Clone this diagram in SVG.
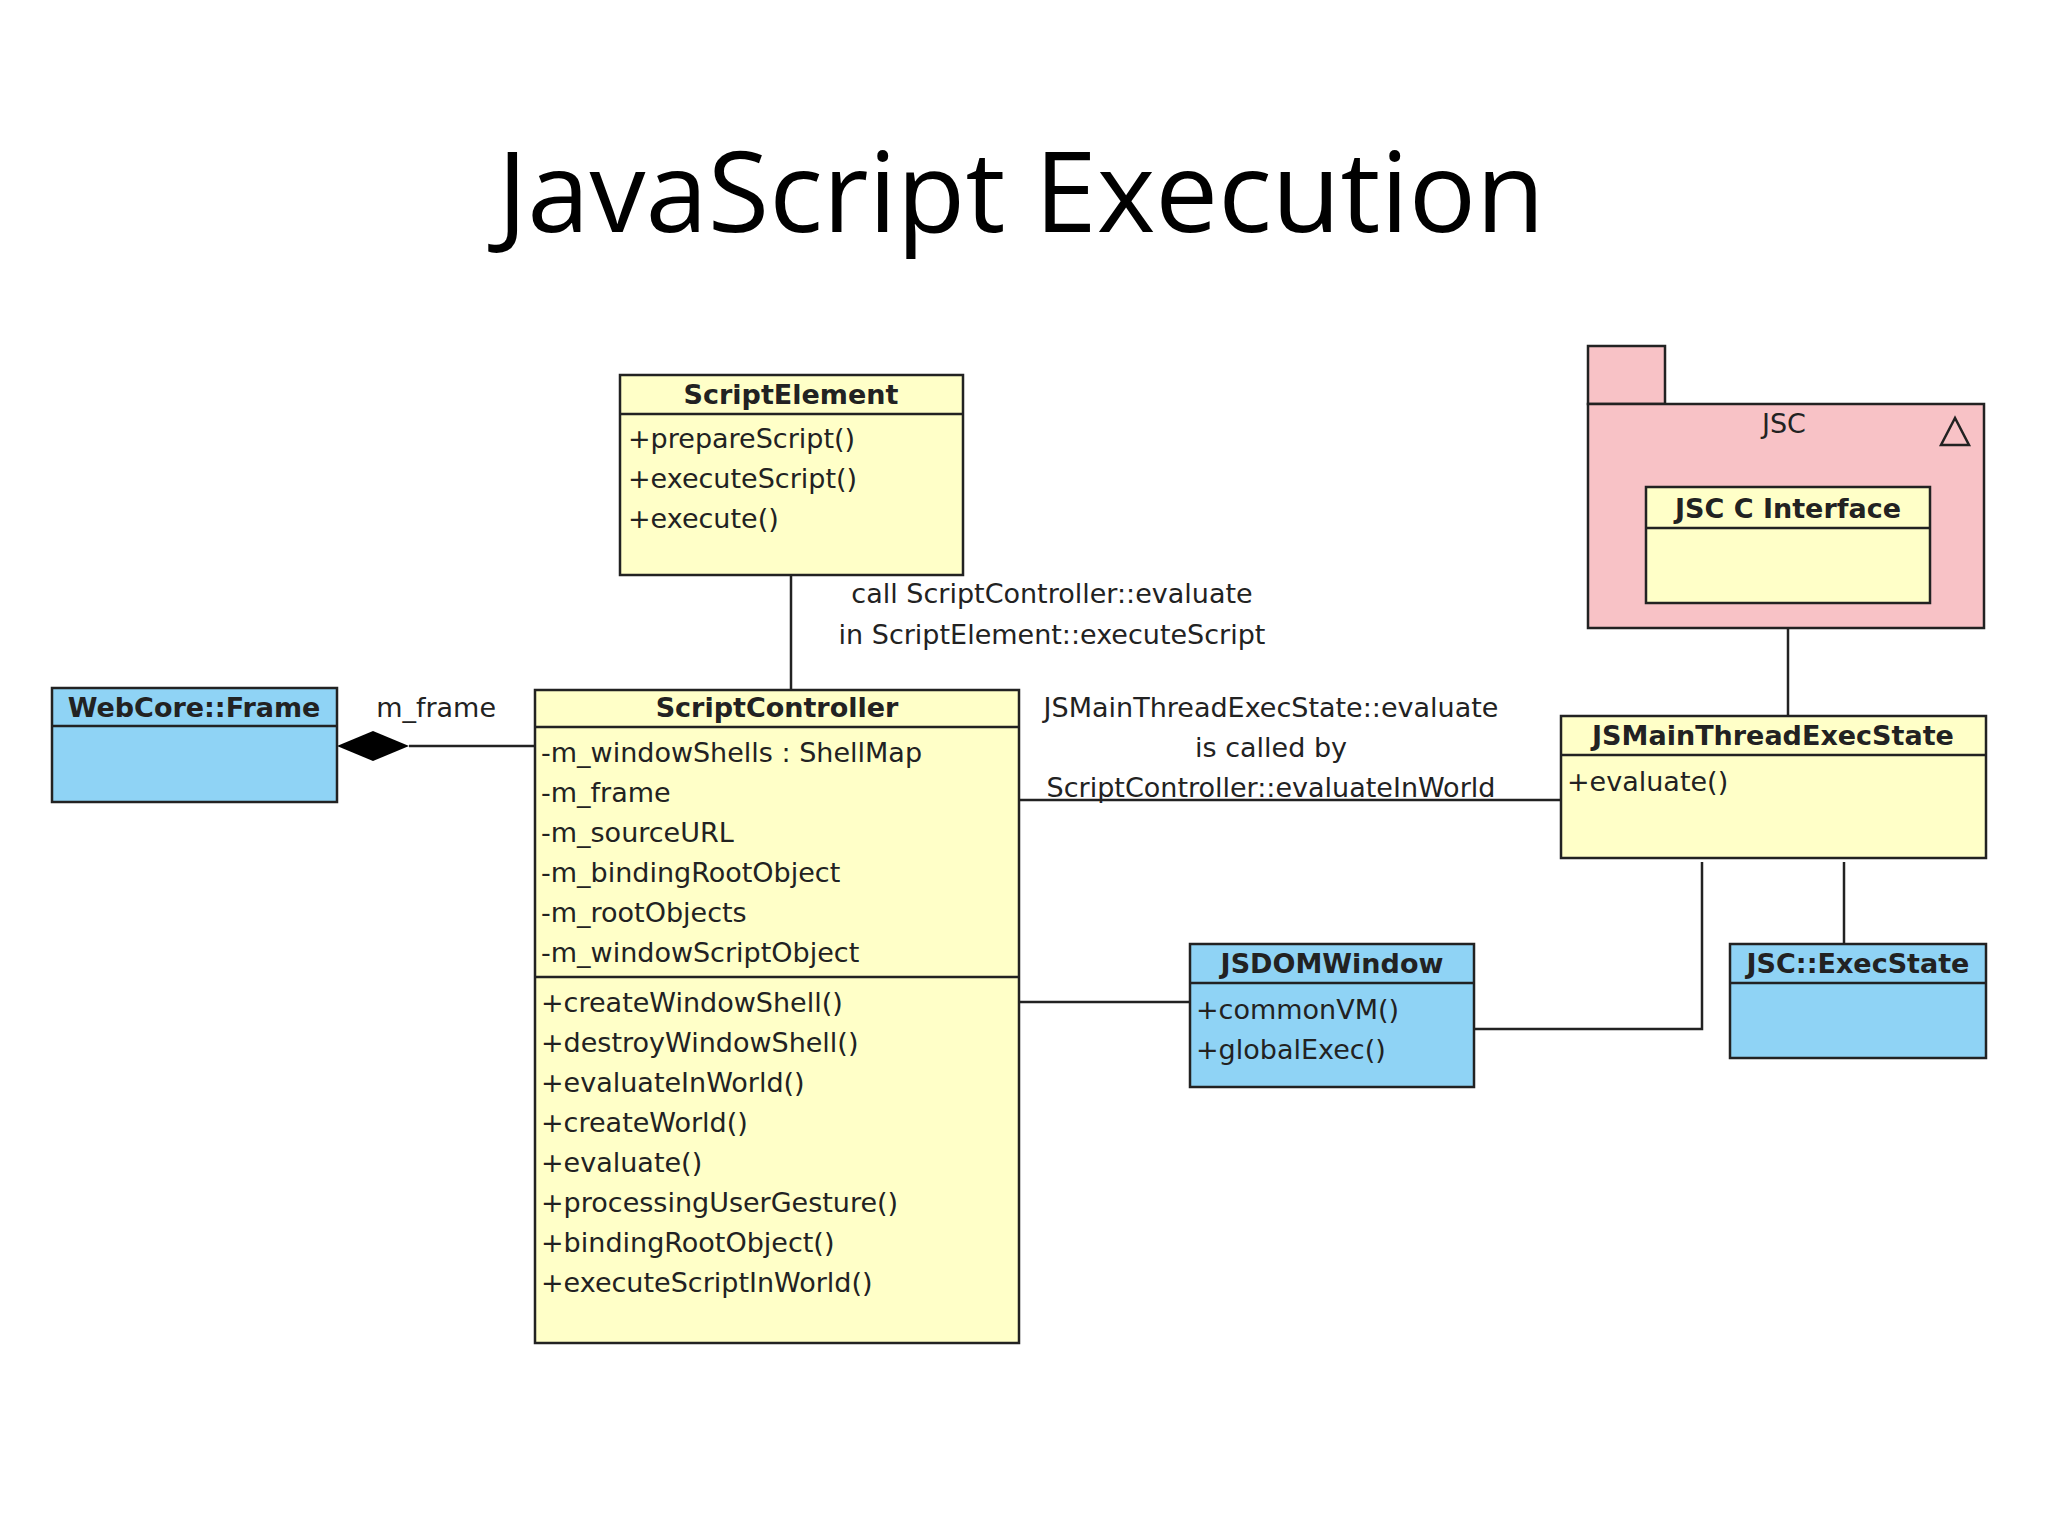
<svg xmlns="http://www.w3.org/2000/svg" width="2048" height="1536" viewBox="0 0 2048 1536">
<style>
.box{stroke:#222;stroke-width:2.5}
.y{fill:#ffffc8}.b{fill:#8fd3f5}.p{fill:#f8c2c6}
text{font-family:"DejaVu Sans","Liberation Sans",sans-serif;font-size:27px;fill:#222}
.h{font-weight:bold;text-anchor:middle}
.c{text-anchor:middle}
.ln{stroke:#222;stroke-width:2.5;fill:none}
</style>
<rect width="2048" height="1536" fill="#fff"/>
<text x="1021" y="232" style="font-family:'Open Sans','Liberation Sans',sans-serif;font-size:112px;text-anchor:middle;fill:#000">JavaScript Execution</text>
<g id="connectors">
<line class="ln" x1="791" y1="575" x2="791" y2="690"/>
<line class="ln" x1="409" y1="746" x2="535" y2="746"/>
<polygon points="337,746 373,731 409,746 373,761" fill="#000"/>
<line class="ln" x1="1019" y1="800" x2="1561" y2="800"/>
<line class="ln" x1="1019" y1="1002" x2="1190" y2="1002"/>
<polyline class="ln" points="1474,1029 1702,1029 1702,862"/>
<line class="ln" x1="1844" y1="862" x2="1844" y2="944"/>
<line class="ln" x1="1788" y1="603" x2="1788" y2="716"/>
<text x="496" y="717" class="c" style="text-anchor:end">m_frame</text>
<text x="1052" y="603" class="c">call ScriptController::evaluate</text>
<text x="1052" y="644" class="c">in ScriptElement::executeScript</text>
<text x="1271" y="717" class="c">JSMainThreadExecState::evaluate</text>
<text x="1271" y="757" class="c">is called by</text>
<text x="1271" y="797" class="c">ScriptController::evaluateInWorld</text>
</g>
<g id="jsc">
<rect class="box p" x="1588" y="346" width="77" height="58"/>
<rect class="box p" x="1588" y="404" width="396" height="224"/>
<text x="1784" y="433" class="c">JSC</text>
<polygon points="1955,418 1941,445 1969,445" fill="none" stroke="#222" stroke-width="2.5"/>
</g>
<g id="jscc">
<rect class="box y" x="1646" y="487" width="284" height="116"/>
<line class="ln" x1="1646" y1="528" x2="1930" y2="528"/>
<text x="1788" y="518" class="h">JSC C Interface</text>
</g>
<g id="scriptelement">
<rect class="box y" x="620" y="375" width="343" height="200"/>
<line class="ln" x1="620" y1="414" x2="963" y2="414"/>
<text x="791" y="404" class="h">ScriptElement</text>
<text x="628" y="448">+prepareScript()</text>
<text x="628" y="488">+executeScript()</text>
<text x="628" y="528">+execute()</text>
</g>
<g id="frame">
<rect class="box b" x="52" y="688" width="285" height="114"/>
<line class="ln" x1="52" y1="726" x2="337" y2="726"/>
<text x="194" y="717" class="h">WebCore::Frame</text>
</g>
<g id="scriptcontroller">
<rect class="box y" x="535" y="690" width="484" height="653"/>
<line class="ln" x1="535" y1="727" x2="1019" y2="727"/>
<line class="ln" x1="535" y1="977" x2="1019" y2="977"/>
<text x="777" y="717" class="h">ScriptController</text>
<text x="541" y="762">-m_windowShells : ShellMap</text>
<text x="541" y="802">-m_frame</text>
<text x="541" y="842">-m_sourceURL</text>
<text x="541" y="882">-m_bindingRootObject</text>
<text x="541" y="922">-m_rootObjects</text>
<text x="541" y="962">-m_windowScriptObject</text>
<text x="541" y="1012">+createWindowShell()</text>
<text x="541" y="1052">+destroyWindowShell()</text>
<text x="541" y="1092">+evaluateInWorld()</text>
<text x="541" y="1132">+createWorld()</text>
<text x="541" y="1172">+evaluate()</text>
<text x="541" y="1212">+processingUserGesture()</text>
<text x="541" y="1252">+bindingRootObject()</text>
<text x="541" y="1292">+executeScriptInWorld()</text>
</g>
<g id="jsmain">
<rect class="box y" x="1561" y="716" width="425" height="142"/>
<line class="ln" x1="1561" y1="755" x2="1986" y2="755"/>
<text x="1773" y="745" class="h">JSMainThreadExecState</text>
<text x="1567" y="791">+evaluate()</text>
</g>
<g id="jsdomwindow">
<rect class="box b" x="1190" y="944" width="284" height="143"/>
<line class="ln" x1="1190" y1="983" x2="1474" y2="983"/>
<text x="1332" y="973" class="h">JSDOMWindow</text>
<text x="1196" y="1019">+commonVM()</text>
<text x="1196" y="1059">+globalExec()</text>
</g>
<g id="execstate">
<rect class="box b" x="1730" y="944" width="256" height="114"/>
<line class="ln" x1="1730" y1="983" x2="1986" y2="983"/>
<text x="1858" y="973" class="h">JSC::ExecState</text>
</g>
</svg>
